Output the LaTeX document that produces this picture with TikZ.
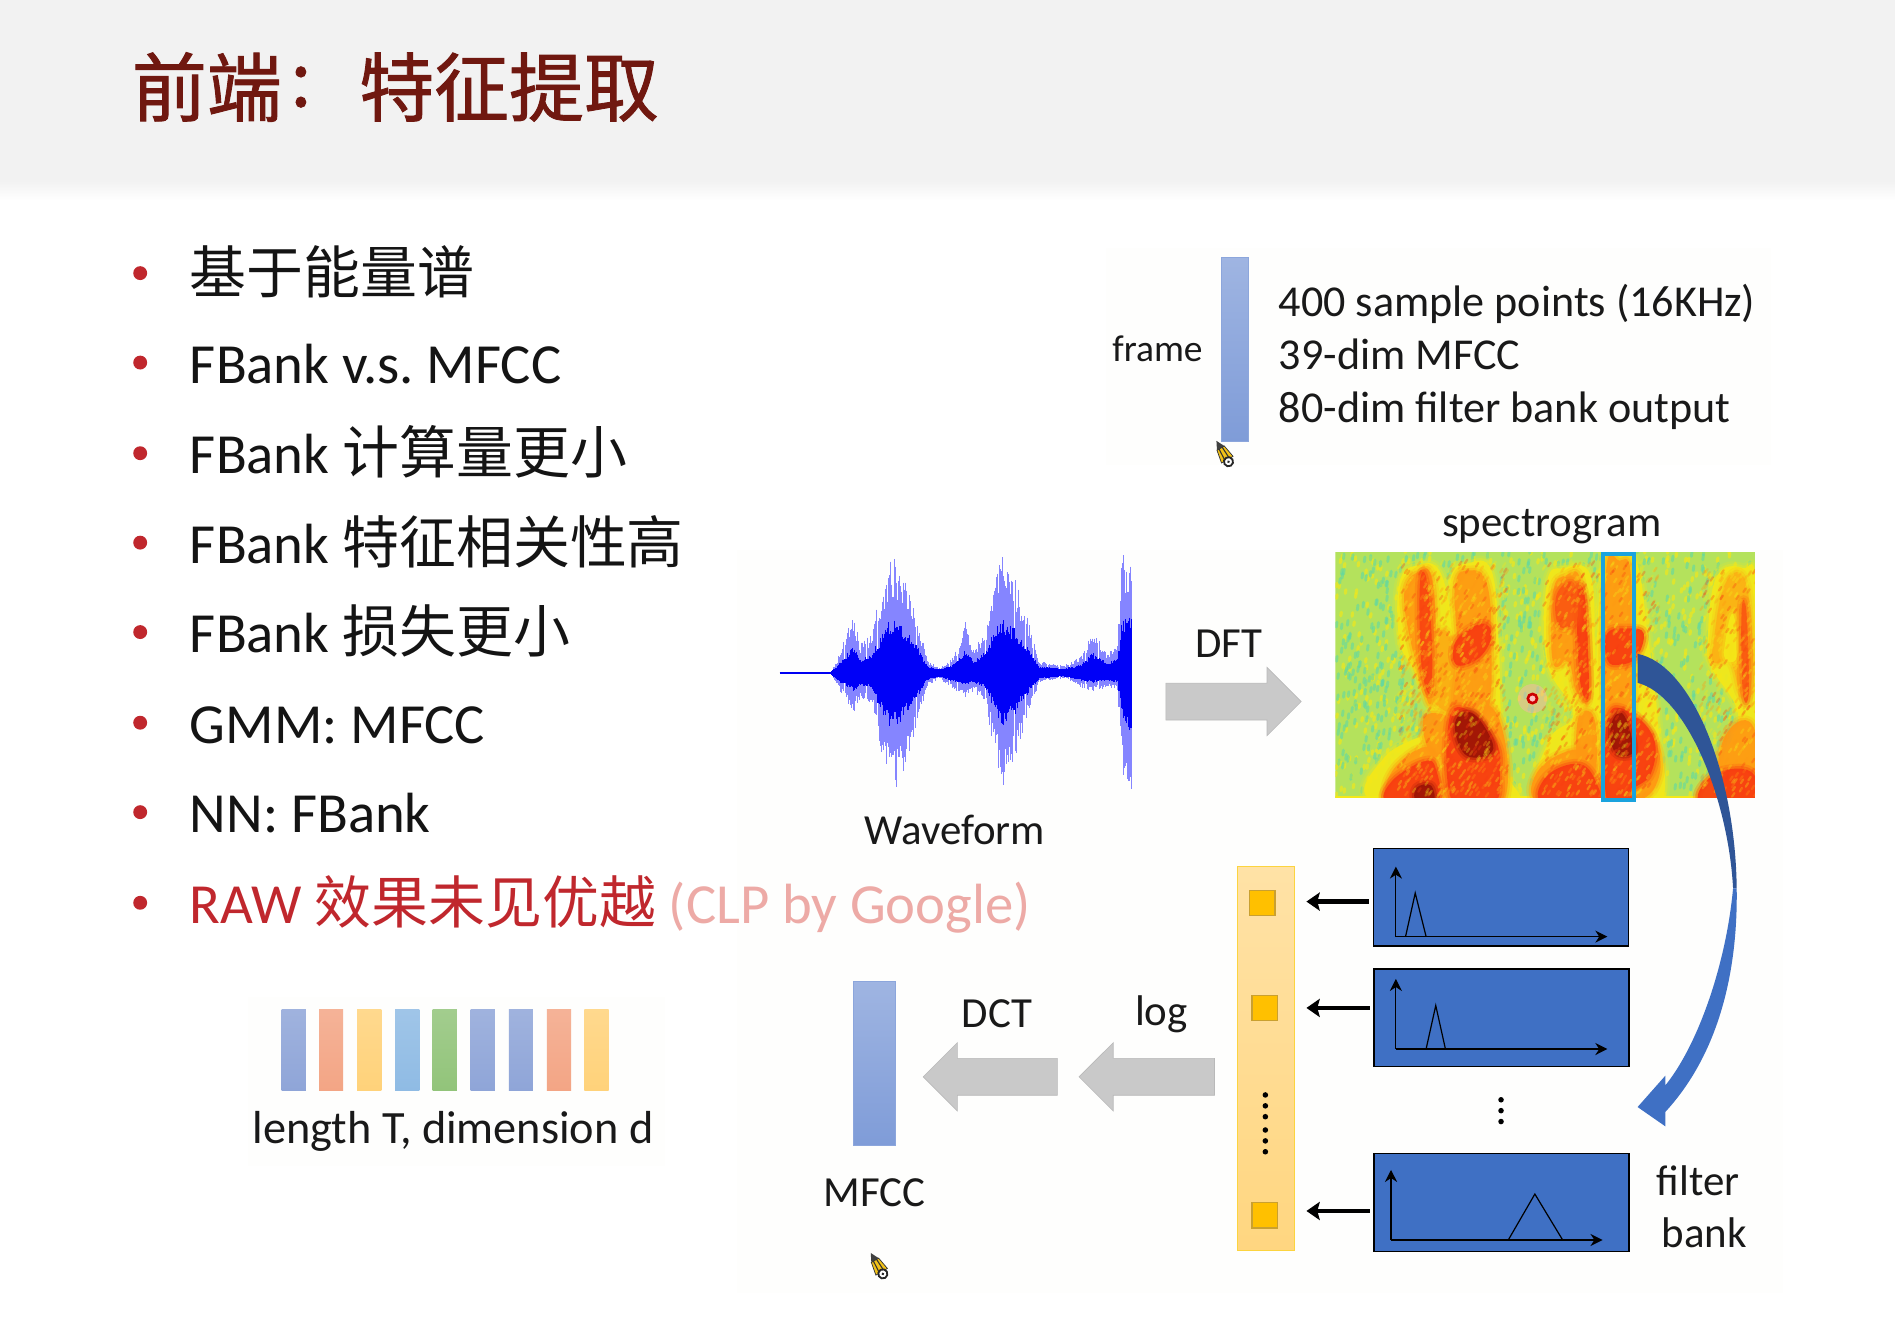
\documentclass[tikz,border=0pt]{standalone}
\usepackage{fontspec}
\setmainfont{Carlito}
\newfontfamily\cjk[Scale=1.004]{Noto Sans CJK SC}
\newfontfamily\cjktitle[FakeBold=1.2]{Noto Sans CJK SC}
\usetikzlibrary{shapes.arrows, arrows.meta, positioning}

\definecolor{titlered}{HTML}{701810}
\definecolor{itemred}{HTML}{C0272D}
\definecolor{itempink}{HTML}{EDAAA6}
\definecolor{panelgray}{HTML}{FEFEFD}
\definecolor{arrowgray}{HTML}{C9C9C9}
\definecolor{filterblue}{HTML}{3F70C4}
\definecolor{curvedark}{HTML}{2F5597}
\definecolor{framecol}{HTML}{7F9CD8}
\definecolor{columncol}{HTML}{1AA3DE}
\definecolor{specbase}{HTML}{B4E25C}
\definecolor{specteal}{HTML}{5FD8A4}
\definecolor{specyellow}{HTML}{F4E818}
\definecolor{specorange}{HTML}{FF9812}
\definecolor{specred}{HTML}{F83C10}
\definecolor{specdark}{HTML}{9C1406}
\definecolor{pencilyellow}{HTML}{F2C218}
\definecolor{squarefill}{HTML}{FFC000}
\definecolor{squareedge}{HTML}{C9A030}

\newcommand{\zh}[1]{{\cjk #1}}
\newcommand{\fsz}[1]{\fontsize{#1}{#1}\selectfont}
\newcommand{\softblob}[2]{%
  \draw[#1, line width=8pt, opacity=.2, line join=round] plot[smooth cycle, tension=.7] coordinates {#2};
  \draw[#1, line width=4pt, opacity=.35, line join=round] plot[smooth cycle, tension=.7] coordinates {#2};
  \fill[#1, opacity=.92] plot[smooth cycle, tension=.7] coordinates {#2};
}

\tikzset{
  listtext/.style={font=\fsz{46.9}, anchor=base west, inner sep=0pt},
  listdot/.style={circle, fill=itemred, minimum size=11.5pt, inner sep=0pt},
  label/.style={font=\fsz{35.5}, inner sep=0pt, text=black!90},
  framebar/.style={rectangle, inner sep=0pt, top color=#1!75, bottom color=#1, draw=#1!90, line width=.5pt},
  grayarrow/.style={single arrow, fill=arrowgray, draw=arrowgray!92!black, line width=.5pt, inner sep=15pt, minimum width=56pt, single arrow head extend=13pt},
  filterbox/.style={rectangle, fill=filterblue, draw=black, line width=1.5pt, inner sep=0pt, minimum width=211pt, minimum height=81pt},
  outsq/.style={rectangle, fill=squarefill, draw=squareedge, line width=1pt, inner sep=0pt, minimum width=21pt, minimum height=21pt},
  blackarrow/.style={line width=3.6pt, -{Stealth[length=11pt,width=15pt,inset=2pt]}},
  axis/.style={line width=1pt, -{Stealth[length=10pt,width=10pt]}},
  tinydot/.style={circle, fill=black, minimum size=4.6pt, inner sep=0pt},
  pencilmark/.pic={
    \begin{scope}[rotate=30]
      \fill[black!75] (0,-13) -- (-3.5,-6) -- (3.5,-6) -- cycle;
      \fill[pencilyellow, draw=black!80, line width=.6pt] (-3.5,-6) -- (3.5,-6) -- (5.5,5) -- (-5.5,5) -- cycle;
      \draw[black!80, line width=.9pt] (-1.5,-6) -- (-2,4);
      \draw[black!80, line width=.9pt] (1.5,-6) -- (2,4);
      \fill[white, draw=black!85, line width=1.5pt] (0,7) circle (3.8);
      \fill[black!85] (0,7) circle (1.2);
    \end{scope}
  }
}

\begin{document}
\frenchspacing
\begin{tikzpicture}[x=1pt,y=-1pt]
\useasboundingbox (0,0) rectangle (1568,1103);
\fill[white] (0,0) rectangle (1568,1103);
\fill[panelgray] (610,455) rectangle (1475,1070);
\fill[panelgray] (915,205) rectangle (1465,385);
\fill[panelgray] (205,825) rectangle (550,965);

% header
\fill[black!5] (0,0) rectangle (1568,150);
\shade[top color=black!5, bottom color=white] (0,150) rectangle (1568,166);
\node[font=\fsz{62}\cjktitle, text=titlered, anchor=west, inner sep=0pt] (titlea) at (109,72) {前端};
\node[font=\fsz{62}\cjktitle, text=titlered, inner sep=0pt] (titleb) at (249,72) {:};
\node[font=\fsz{62}\cjktitle, text=titlered, anchor=west, inner sep=0pt] (titlec) at (297,72) {特征提取};

% list
\foreach \i/\y/\txt in {1/243/\zh{基于能量谱}, 2/317/FBank v.s. MFCC, 3/392/FBank \zh{计算量更小}, 4/466/FBank \zh{特征相关性高}, 5/540/FBank \zh{损失更小}, 6/615/GMM: MFCC, 7/689/NN: FBank} {
  \node[listdot] (dot\i) at (116,\y-17) {};
  \node[listtext, text=black!92] (item\i) at (157,\y) {\txt};
}
\node[listdot] (dot8) at (116,747) {};
\node[listtext, text=itemred] (item8) at (157,764) {RAW \zh{效果未见优越} \textcolor{itempink}{(CLP by Google)}};

% sequence of frames
\foreach \i/\xc/\col in {1/243/8FA5D8, 2/274/F3A585, 3/305.5/FFD27A, 4/337/8FBBE4, 5/368/92C47A, 6/399.5/8FA5D8, 7/431/8FA5D8, 8/462.5/F3A585, 9/493.5/FFD27A} {
  \definecolor{barcol}{HTML}{\col}
  \node[rectangle, inner sep=0pt, minimum width=20pt, minimum height=67pt, top color=barcol!85, bottom color=barcol] (seq\i) at (\xc,868.5) {};
}
\node[label, font=\fsz{38.3}] (seqlabel) at (375,936) {length T, dimension d};

% frame
\node[framebar=framecol, minimum width=22pt, minimum height=152pt] (frame) at (1021.5,289) {};
\node[label, font=\fsz{31}, left=15pt of frame] (framelabel) {frame};
\node[label, font=\fsz{36.5}, anchor=base west] (linea) at (1058,262) {400 sample points (16KHz)};
\node[label, font=\fsz{36.5}, anchor=base west] (lineb) at (1058,306) {39-dim MFCC};
\node[label, font=\fsz{36.5}, anchor=base west] (linec) at (1058,350) {80-dim filter bank output};
\pic at (1013,376) {pencilmark};

% waveform
\pgfmathsetseed{11}
\draw[blue!95!black, line width=2pt] (645,557) -- (690,557);
\foreach \xb/\tb/\bb [remember=\xb as \xa (initially 688), remember=\tb as \ta (initially 1.5), remember=\bb as \ba (initially 1.5)] in {692/10/10, 706/49/33, 712/25/22, 722/35/28, 730/75/70, 738/97/100, 745/88/90, 757/55/50, 768/10/10, 778/5/5, 790/15/15, 799/44/20, 806/20/15, 815/35/25, 825/88/75, 830/98/94, 840/78/72, 852/40/30, 860/10/8, 880/6/4, 895/15/12, 904/36/16, 915/18/12, 925/25/15, 928/97/72, 932/100/100, 937/100/100} {
  \pgfmathsetmacro\xn{\xa+.9}
  \foreach \x in {\xa,\xn,...,\xb} {
    \pgfmathsetmacro\ff{(\x-\xa)/(\xb-\xa)}
    \pgfmathsetmacro\up{\ta+(\tb-\ta)*\ff}
    \pgfmathsetmacro\dn{\ba+(\bb-\ba)*\ff}
    \draw[blue!48, line width=.85pt] (\x,{557-\up*(.66+.34*rnd)}) -- (\x,{557+\dn*(.66+.34*rnd)});
    \draw[blue!97!black, line width=.9pt] (\x,{557-\up*(.32+.14*rnd)-1}) -- (\x,{557+\dn*(.32+.14*rnd)+1});
  }
}
\node[label] (wavelabel) at (790,687) {Waveform};

% spectrogram
\begin{scope}
\clip (1105,457) rectangle (1452,660);
\fill[specbase] (1105,457) rectangle (1452,660);
\foreach \k in {1,...,800} {
  \pgfmathsetmacro\px{1105+347*rnd}
  \pgfmathsetmacro\py{457+203*rnd}
  \draw[specyellow, line width=2.6pt, opacity=.65, line cap=round] (\px,\py) -- ++(.5,-3);
}
\foreach \k in {1,...,800} {
  \pgfmathsetmacro\px{1105+347*rnd}
  \pgfmathsetmacro\py{457+203*rnd}
  \draw[specteal, line width=2.4pt, opacity=.6, line cap=round] (\px,\py) -- ++(.5,-4);
}
\draw[specyellow, line width=2pt] (1105,659.5) -- (1452,659.5);
% yellow halos
\softblob{specyellow}{(1158,482) (1172,468) (1192,474) (1203,530) (1204,580) (1198,592) (1186,592) (1170,555) (1158,530)}
\softblob{specyellow}{(1200,480) (1215,466) (1234,472) (1240,530) (1242,590) (1248,640) (1248,664) (1138,664) (1146,626) (1196,594) (1202,540)}
\softblob{specyellow}{(1280,482) (1294,470) (1316,476) (1320,540) (1324,590) (1328,664) (1270,664) (1282,612) (1302,590) (1280,548)}
\softblob{specyellow}{(1326,460) (1352,460) (1364,530) (1372,600) (1374,664) (1326,664)}
\softblob{specyellow}{(1413,530) (1420,478) (1442,470) (1454,490) (1458,664) (1404,664) (1428,622) (1438,590) (1416,552)}
% orange
\softblob{specorange}{(1162,490) (1172,474) (1185,478) (1188,540) (1184,582) (1176,562) (1166,525)}
\softblob{specorange!75!specyellow}{(1186,528) (1200,528) (1204,582) (1192,586) (1184,570)}
\softblob{specorange}{(1204,484) (1216,472) (1230,482) (1234,530) (1230,590) (1204,590) (1206,540)}
\softblob{specorange}{(1285,490) (1296,476) (1308,480) (1314,540) (1314,580) (1304,572) (1298,548) (1285,548)}
\softblob{specorange}{(1329,472) (1340,464) (1349,472) (1350,540) (1350,592) (1329,592)}
\softblob{specorange!70!specyellow}{(1418,530) (1427,484) (1443,478) (1450,530) (1448,572) (1440,574) (1432,548) (1418,548)}
\softblob{specorange}{(1178,594) (1198,594) (1200,620) (1184,624)}
\softblob{specorange}{(1306,594) (1319,594) (1320,636) (1306,636)}
\softblob{specorange}{(1426,612) (1450,600) (1458,664) (1424,664)}
\softblob{specorange}{(1272,664) (1274,636) (1306,620) (1320,636) (1322,664)}
\softblob{specorange}{(1150,664) (1152,638) (1180,618) (1190,638) (1190,664)}
\softblob{specorange}{(1200,590) (1238,590) (1244,664) (1198,664)}
\softblob{specorange}{(1330,590) (1350,590) (1372,620) (1370,650) (1352,664) (1330,664)}
% yellow inside the last formant
\softblob{specyellow}{(1427,535) (1433,508) (1438,530) (1436,546) (1428,546)}
% red
\softblob{specred!90!specorange}{(1175,482) (1181,482) (1185,540) (1183,574) (1176,548)}
\softblob{specred}{(1205,530) (1226,516) (1234,526) (1224,544) (1205,550)}
\softblob{specred}{(1305,492) (1311,492) (1314,540) (1314,578) (1307,560)}
\softblob{specred!70!specorange}{(1288,492) (1302,482) (1305,512) (1290,518)}
\softblob{specred}{(1330,524) (1347,520) (1360,524) (1354,544) (1340,550) (1330,546)}
\softblob{specred!70!specorange}{(1441,506) (1445,506) (1447,572) (1442,572)}
\softblob{specred}{(1199,596) (1216,588) (1238,614) (1241,640) (1236,664) (1202,664)}
\softblob{specred}{(1330,596) (1346,588) (1368,610) (1366,640) (1350,654) (1350,664) (1330,664)}
\softblob{specred}{(1148,664) (1152,646) (1178,630) (1188,636) (1188,664)}
\softblob{specred}{(1276,664) (1280,642) (1306,632) (1320,646) (1320,664)}
\softblob{specred}{(1408,664) (1414,644) (1436,636) (1452,642) (1456,664)}
% dark
\softblob{specdark}{(1204,598) (1218,590) (1234,612) (1232,624) (1212,624)}
\softblob{specdark}{(1333,600) (1342,590) (1350,610) (1350,624) (1336,622)}
\softblob{specdark}{(1172,652) (1184,650) (1186,664) (1172,664)}
\foreach \xa/\xw/\ya/\yh/\col/\cnt in {1156/90/466/194/specyellow/380, 1156/90/466/194/specorange/260, 1156/90/466/194/specred/180, 1276/96/466/194/specyellow/380, 1276/96/466/194/specorange/260, 1276/96/466/194/specred/180, 1406/46/472/188/specyellow/130, 1406/46/472/188/specorange/110, 1406/46/472/188/specred/70} {
  \foreach \k in {1,...,\cnt} {
    \pgfmathsetmacro\px{\xa+\xw*rnd}
    \pgfmathsetmacro\py{\ya+\yh*rnd}
    \draw[\col, line width=1.8pt, opacity=.32, line cap=round] (\px,\py) -- ++(2,-3);
  }
}
\end{scope}
\fill[red!30, opacity=.45] (1268,578) circle (12);
\draw[red!80!black, line width=2.2pt, fill=red!25] (1268,578) circle (3.8);
\node[label] (speclabel) at (1284,436) {spectrogram};
\draw[columncol, line width=3pt] (1326.5,458.5) rectangle (1352,662);

\node[grayarrow, minimum height=112pt] (dft) at (1013,580.5) {};
\node[label] (dftlabel) at (1017,533) {DFT};

% filter bank
\node[filterbox] (fbone) at (1242,742.5) {};
\node[filterbox] (fbtwo) at (1242.5,842) {};
\node[filterbox] (fbthree) at (1242.5,995) {};
\draw[axis] (1155,775) -- (1155,717);
\draw[axis] (1155,775) -- (1330,775);
\draw[line width=1pt] (1163,775) -- (1171,739) -- (1180,775);
\draw[axis] (1155,868) -- (1155,810);
\draw[axis] (1155,868) -- (1330,868);
\draw[line width=1pt] (1180,868) -- (1188,832) -- (1196,868);
\draw[axis] (1151,1026) -- (1151,968);
\draw[axis] (1151,1026) -- (1326,1026);
\draw[line width=1pt] (1248,1026) -- (1270,988) -- (1293,1026);
\foreach \i/\y in {1/910, 2/919, 3/928} {
  \node[tinydot] (gap\i) at (1242,\y) {};
}
\node[label, anchor=base] (filterlabel) at (1405,989) {filter};
\node[label, anchor=base] (banklabel) at (1410,1032) {bank};

% output bar
\definecolor{bartop}{HTML}{FFE2A6}
\definecolor{barbot}{HTML}{FFD680}
\node[rectangle, inner sep=0pt, minimum width=47pt, minimum height=318pt, top color=bartop, bottom color=barbot, draw=yellow!60!orange!75!white, line width=1pt] (bar) at (1047.5,876) {};
\node[outsq] (outone) at (1044.5,747) {};
\node[outsq] (outtwo) at (1046.5,834) {};
\node[outsq] (outthree) at (1046.5,1005.5) {};
\foreach \i/\y in {1/906, 2/915, 3/924, 4/935, 5/944, 6/953} {
  \node[tinydot] (bardot\i) at (1047,\y) {};
}
\coordinate (endone) at (1081,746);
\coordinate (endtwo) at (1081,834);
\coordinate (endthree) at (1081,1002);
\draw[blackarrow] ([xshift=-3pt]fbone.west |- endone) -- (endone);
\draw[blackarrow] ([xshift=-3pt]fbtwo.west |- endtwo) -- (endtwo);
\draw[blackarrow] ([xshift=-3pt]fbthree.west |- endthree) -- (endthree);

% curved arrow from the spectrogram column
\fill[curvedark] (1355,541) .. controls (1400,550) and (1436,640) .. (1437,735) -- (1434,735) .. controls (1430,660) and (1395,575) .. (1355,565) -- cycle;
\fill[filterblue] (1437,735) .. controls (1438,800) and (1424,870) .. (1378,920) -- (1378,932) -- (1355,916) -- (1378,890) -- (1378,898) .. controls (1404,866) and (1428,800) .. (1434,735) -- cycle;

% log and DCT
\node[grayarrow, minimum height=112pt, shape border rotate=180] (logarrow) at (956.5,891) {};
\node[grayarrow, minimum height=111pt, shape border rotate=180] (dctarrow) at (827,891) {};
\node[label] (loglabel) at (961,839) {log};
\node[label] (dctlabel) at (825,839) {DCT};
\node[framebar=framecol, minimum width=35pt, minimum height=136pt] (mfcc) at (723.5,880) {};
\node[label] (mfcclabel) at (723.5,987) {MFCC};
\pic at (727,1048) {pencilmark};
\end{tikzpicture}
\end{document}
